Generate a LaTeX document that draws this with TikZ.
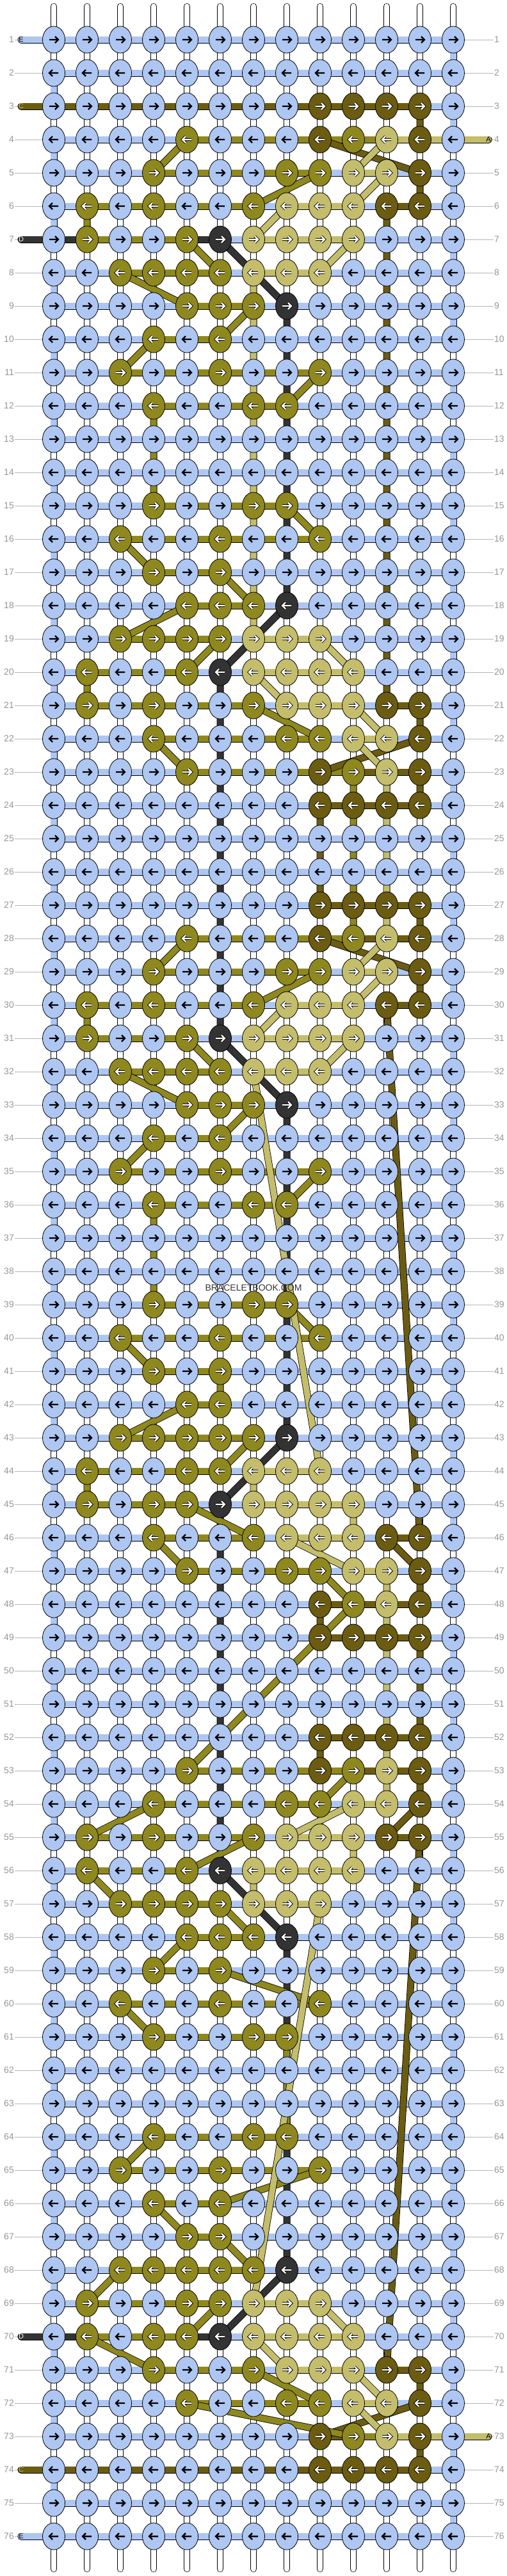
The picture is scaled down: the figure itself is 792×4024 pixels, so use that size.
\documentclass[tikz,border=0pt]{standalone}
\usepackage{fontspec}
\setmainfont{Liberation Sans}
\usetikzlibrary{shapes.geometric}
\definecolor{cE}{RGB}{174,198,242}
\definecolor{cA}{RGB}{196,189,107}
\definecolor{cB}{RGB}{143,136,30}
\definecolor{cC}{RGB}{107,92,17}
\definecolor{cD}{RGB}{51,51,51}
\definecolor{numgray}{RGB}{150,150,150}

\tikzset{
  basestring/.style={draw=black, line width=0.7pt, double=white, double distance=8.6pt, line cap=round},
  strand/.style={draw=black, line width=0.8pt, double distance=9.4pt, line cap=round, line join=round},
  knotnode/.style={ellipse, draw=black, line width=0.8pt, minimum width=35pt, minimum height=42pt, inner sep=0pt},
  arrowdark/.style={black, line width=2.4pt},
  arrowhalo/.style={black, line width=4.2pt},
  arrowlight/.style={white, line width=2.2pt},
  rownum/.style={text=numgray, font=\fontsize{14}{16}\selectfont, inner sep=1pt},
  numline/.style={draw=numgray!70, line width=1pt},
  endtag/.style={font=\fontsize{11}{12}\selectfont, inner sep=0pt},
  wmark/.style={text=black!80, font=\fontsize{14}{16}\selectfont}
}

\newcount\colcount
\def\readknot#1{\ifx\relax#1\else\global\advance\colcount by 1
  \expandafter\xdef\csname kn-\currow-\the\colcount\endcsname{#1}%
  \expandafter\readknot\fi}
\newcommand\setrow[2]{\xdef\currow{#1}\global\colcount=0 \readknot#2\relax}
\newcommand\arrowpath[2]{(#1) ++(-7*#2,0) -- ++(14*#2,0) ++(-5*#2,-5) -- ++(5*#2,5) -- ++(-5*#2,5)}

% knot colours, row by row (E blue, A khaki, B olive, C dark olive, D grey)
\setrow{1}{EEEEEEEEEEEEE}
\setrow{2}{EEEEEEEEEEEEE}
\setrow{3}{EEEEEEEECCCCE}
\setrow{4}{EEEEBEEECBACE}
\setrow{5}{EEEBEEEBBAACE}
\setrow{6}{EBEBEEBAAACCE}
\setrow{7}{EBEEBDAAAAEEE}
\setrow{8}{EEBBBBAAAEEEE}
\setrow{9}{EEEEBBBDEEEEE}
\setrow{10}{EEEBEBEEEEEEE}
\setrow{11}{EEBEEBEEBEEEE}
\setrow{12}{EEEBEEBBEEEEE}
\setrow{13}{EEEEEEEEEEEEE}
\setrow{14}{EEEEEEEEEEEEE}
\setrow{15}{EEEBEEBBEEEEE}
\setrow{16}{EEBEEBEEBEEEE}
\setrow{17}{EEEBEBEEEEEEE}
\setrow{18}{EEEEBBBDEEEEE}
\setrow{19}{EEBBBBAAAEEEE}
\setrow{20}{EBEEBDAAAAEEE}
\setrow{21}{EBEBEEBAAACCE}
\setrow{22}{EEEBEEEBBAACE}
\setrow{23}{EEEEBEEECBACE}
\setrow{24}{EEEEEEEECCCCE}
\setrow{25}{EEEEEEEEEEEEE}
\setrow{26}{EEEEEEEEEEEEE}
\setrow{27}{EEEEEEEECCCCE}
\setrow{28}{EEEEBEEECBACE}
\setrow{29}{EEEBEEEBBAACE}
\setrow{30}{EBEBEEBAAACCE}
\setrow{31}{EBEEBDAAAAEEE}
\setrow{32}{EEBBBBAAAEEEE}
\setrow{33}{EEEEBBBDEEEEE}
\setrow{34}{EEEBEBEEEEEEE}
\setrow{35}{EEBEEBEEBEEEE}
\setrow{36}{EEEBEEBBEEEEE}
\setrow{37}{EEEEEEEEEEEEE}
\setrow{38}{EEEEEEEEEEEEE}
\setrow{39}{EEEBEEBBEEEEE}
\setrow{40}{EEBEEBEEBEEEE}
\setrow{41}{EEEBEBEEEEEEE}
\setrow{42}{EEEEBBEEEEEEE}
\setrow{43}{EEBBBBBDEEEEE}
\setrow{44}{EBEEBBAAAEEEE}
\setrow{45}{EBEBBDAAAAEEE}
\setrow{46}{EEEBEEBAAACCE}
\setrow{47}{EEEEBEEBBAACE}
\setrow{48}{EEEEEEEECBACE}
\setrow{49}{EEEEEEEECCCCE}
\setrow{50}{EEEEEEEEEEEEE}
\setrow{51}{EEEEEEEEEEEEE}
\setrow{52}{EEEEEEEECCCCE}
\setrow{53}{EEEEBEEECBACE}
\setrow{54}{EEEBEEEBBAACE}
\setrow{55}{EBEBEEBAAACCE}
\setrow{56}{EBEEBDAAAAEEE}
\setrow{57}{EEBBBBAAAEEEE}
\setrow{58}{EEEEBBBDEEEEE}
\setrow{59}{EEEBEBEEEEEEE}
\setrow{60}{EEBEEBEEBEEEE}
\setrow{61}{EEEBEEBBEEEEE}
\setrow{62}{EEEEEEEEEEEEE}
\setrow{63}{EEEEEEEEEEEEE}
\setrow{64}{EEEBEEBBEEEEE}
\setrow{65}{EEBEEBEEBEEEE}
\setrow{66}{EEEBEBEEEEEEE}
\setrow{67}{EEEEBBEEEEEEE}
\setrow{68}{EEBBBBBDEEEEE}
\setrow{69}{EBEEBBAAAEEEE}
\setrow{70}{EBEBBDAAAAEEE}
\setrow{71}{EEEBEEBAAACCE}
\setrow{72}{EEEEBEEBBAACE}
\setrow{73}{EEEEEEEECBACE}
\setrow{74}{EEEEEEEECCCCE}
\setrow{75}{EEEEEEEEEEEEE}
\setrow{76}{EEEEEEEEEEEEE}

\begin{document}
\begin{tikzpicture}[x=1pt,y=-1pt]
  \useasboundingbox (0,0) rectangle (792,4024);
  \fill[white] (0,0) rectangle (792,4024);

  \foreach \r in {1,...,76} {
    \foreach \c in {1,...,13} {
      \coordinate (p-\r-\c) at ({84+52*(\c-1)},{62+52*(\r-1)});
    }
  }
  \coordinate (s-E) at (33,62);
  \coordinate (t-E) at (33,3962);
  \coordinate (s-C) at (33,166);
  \coordinate (t-C) at (33,3858);
  \coordinate (s-D) at (33,374);
  \coordinate (t-D) at (33,3650);
  \coordinate (s-A) at (763,218);
  \coordinate (t-A) at (763,3806);
  \coordinate (s-B) at (763,218);
  \coordinate (t-B) at (763,3806);

  % base strings
  \foreach \c in {1,...,13} {
    \coordinate (top-\c) at ({84+52*(\c-1)},10);
    \coordinate (bot-\c) at ({84+52*(\c-1)},4013);
    \draw[basestring] (top-\c) -- (bot-\c);
  }

  % row numbers
  \foreach \r in {1,...,76} {
    \node[rownum, anchor=east] (ln-\r) at (23,{62+52*(\r-1)}) {\r};
    \node[rownum, anchor=west] (rn-\r) at (771,{62+52*(\r-1)}) {\r};
    \draw[numline] (ln-\r.east) -- (p-\r-1);
    \draw[numline] (p-\r-13) -- (rn-\r.west);
  }

  % follow each colour from knot to knot
  \foreach \s/\sr/\er in {E/1/76, D/7/70, C/3/74, B/4/73, A/4/73} {
    \xdef\prevpt{s-\s}\xdef\prevrow{\sr}
    \gdef\hseg{}\gdef\dseg{}
    \foreach \r in {1,...,76} {
      \ifodd\r \gdef\collist{1,...,13}\else \gdef\collist{13,12,...,1}\fi
      \foreach \c in \collist {
        \if\csname kn-\r-\c\endcsname\s
          \ifnum\r=\prevrow \xdef\hseg{\hseg (\prevpt) -- (p-\r-\c)}\else \xdef\dseg{\dseg (\prevpt) -- (p-\r-\c)}\fi
          \xdef\prevpt{p-\r-\c}\xdef\prevrow{\r}
        \fi
      }
    }
    \ifnum\er=\prevrow \xdef\hseg{\hseg (\prevpt) -- (t-\s)}\else \xdef\dseg{\dseg (\prevpt) -- (t-\s)}\fi
    \expandafter\xdef\csname h-\s\endcsname{\hseg}
    \expandafter\xdef\csname d-\s\endcsname{\dseg}
  }
  \foreach \s in {E,D,C,B,A} {
    \edef\segs{\csname h-\s\endcsname}
    \draw[strand, double=c\s] \segs;
  }
  \foreach \s in {E,D,C,B,A} {
    \edef\segs{\csname d-\s\endcsname}
    \draw[strand, double=c\s] \segs;
  }

  % knots
  \foreach \r in {1,...,76} {
    \ifodd\r \gdef\dir{1}\else \gdef\dir{-1}\fi
    \foreach \c in {1,...,13} {
      \edef\kc{\csname kn-\r-\c\endcsname}
      \node[knotnode, fill=c\kc] (k-\r-\c) at (p-\r-\c) {};
      \if E\kc
        \draw[arrowdark] \arrowpath{k-\r-\c.center}{\dir};
      \else
        \draw[arrowhalo] \arrowpath{k-\r-\c.center}{\dir};
        \draw[arrowlight] \arrowpath{k-\r-\c.center}{\dir};
      \fi
    }
  }

  \node[endtag, text=black] at (s-E) {E};
  \node[endtag, text=black] at (t-E) {E};
  \node[endtag, text=cA] at (s-C) {C};
  \node[endtag, text=cA] at (t-C) {C};
  \node[endtag, text=white] at (s-D) {D};
  \node[endtag, text=white] at (t-D) {D};
  \node[endtag, text=black] at (s-A) {A};
  \node[endtag, text=black] at (t-A) {A};

  \node[wmark] (mark) at (396,2012) {BRACELETBOOK.COM};
\end{tikzpicture}
\end{document}
